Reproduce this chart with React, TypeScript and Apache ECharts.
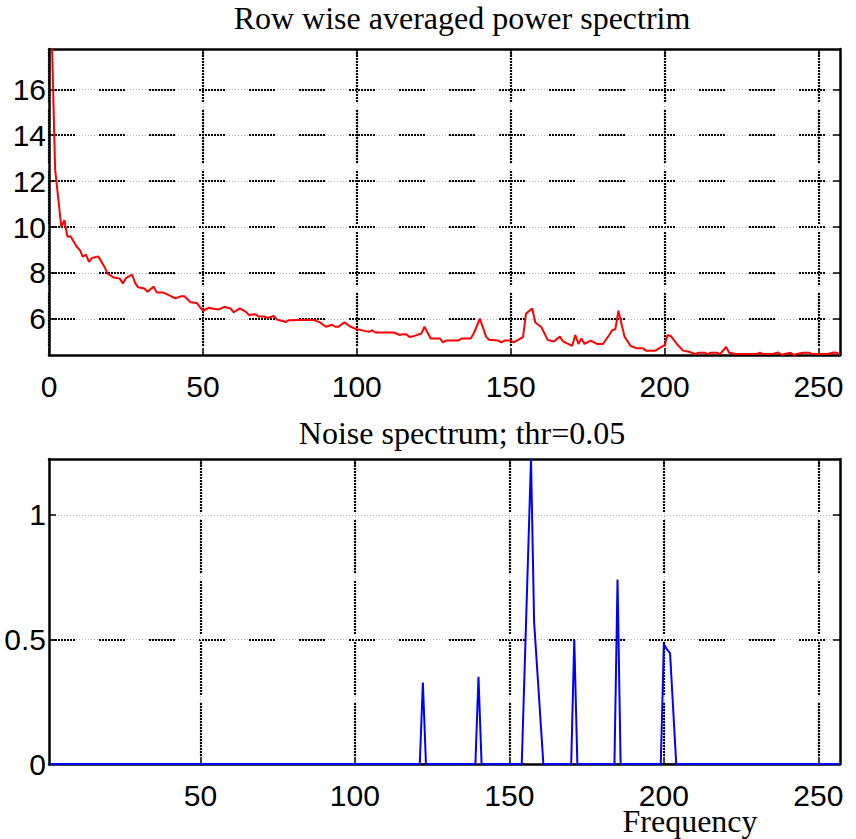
import React, { useEffect, useRef } from 'react';
import * as echarts from 'echarts';

// Row wise averaged power spectrum: [frequency, power]
const powerPoints: [number, number][] = [
  [1, 17.76], [2, 12.5], [4, 10.0], [5, 10.3], [6, 9.57], [7, 9.6], [9, 9.14], [10, 9.0], [11, 8.7], [12, 8.8],
  [13, 8.48], [14, 8.65], [16, 8.72], [18, 8.27], [19, 7.98], [21, 7.8], [23, 7.75], [24, 7.54], [25, 7.77],
  [27, 7.93], [28, 7.55], [29, 7.37], [31, 7.32], [32, 7.18], [34, 7.4], [35, 7.15], [37, 7.15], [39, 7.03],
  [41, 6.89], [43, 6.98], [44, 6.98], [46, 6.72], [48, 6.69], [49, 6.52], [50, 6.35], [52, 6.48], [53, 6.45],
  [55, 6.4], [57, 6.52], [59, 6.45], [60, 6.28], [62, 6.45], [64, 6.3], [65, 6.16], [67, 6.2], [68, 6.1],
  [70, 6.1], [71, 6.04], [73, 6.12], [74, 5.97], [77, 5.86], [78, 5.94], [81, 5.95], [86, 5.95], [88, 5.84],
  [90, 5.65], [92, 5.74], [93, 5.65], [94, 5.65], [96, 5.84], [98, 5.65], [100, 5.54], [103, 5.46], [104, 5.43],
  [105, 5.5], [106, 5.4], [112, 5.4], [114, 5.29], [115, 5.33], [116, 5.33], [117, 5.22], [118, 5.22],
  [121, 5.36], [122, 5.65], [124, 5.14], [127, 5.14], [128, 4.97], [129, 5.05], [133, 5.05], [134, 5.14],
  [137, 5.14], [138, 5.36], [140, 6.0], [142, 5.22], [143, 5.08], [146, 5.05], [147, 4.97], [148, 5.05],
  [150, 5.05], [151, 4.97], [154, 5.2], [155, 6.23], [157, 6.45], [158, 5.84], [160, 5.63], [162, 5.08],
  [164, 5.01], [166, 5.22], [167, 5.01], [170, 4.82], [171, 5.29], [172, 4.9], [173, 5.14], [174, 4.9],
  [176, 5.05], [178, 4.9], [180, 4.9], [182, 5.29], [183, 5.5], [184, 5.54], [185, 6.35], [187, 5.22],
  [189, 4.81], [191, 4.71], [193, 4.71], [194, 4.61], [197, 4.61], [199, 4.77], [200, 4.84], [201, 5.29],
  [202, 5.25], [204, 4.9], [206, 4.61], [208, 4.56], [210, 4.46], [211, 4.52], [213, 4.52], [214, 4.46],
  [215, 4.52], [217, 4.52], [218, 4.46], [220, 4.77], [221, 4.52], [223, 4.46], [230, 4.46], [231, 4.52],
  [232, 4.46], [235, 4.46], [237, 4.53], [238, 4.43], [239, 4.46], [241, 4.52], [242, 4.42], [243, 4.46],
  [245, 4.52], [247, 4.52], [248, 4.46], [253, 4.46], [255, 4.53], [256, 4.52], [257, 4.43],
];

// Noise spectrum (thr = 0.05): [frequency, value]
const noisePoints: [number, number][] = [
  [1, 0], [121, 0], [122, 0.327], [123, 0], [139, 0], [140, 0.35], [141, 0], [154, 0], [157, 1.224],
  [158, 0.57], [161, 0], [170, 0], [171, 0.5], [172, 0], [184, 0], [185, 0.74], [186, 0], [199, 0],
  [200, 0.48], [201, 0.46], [202, 0.445], [204, 0], [257, 0],
];

const topXRange = [0, 257];
const topYRange = [4.42, 17.76];
const bottomXRange = [1, 257];
const bottomYRange = [0, 1.224];
const topXTicks = [0, 50, 100, 150, 200, 250];
const topYTicks = [6, 8, 10, 12, 14, 16];
const bottomXTicks = [50, 100, 150, 200, 250];
const bottomYTicks = [0, 0.5, 1];

const titles = ['Row wise averaged power spectrim', 'Noise spectrum; thr=0.05'];
const xAxisTitle = 'Frequency';

const SANS = '"Liberation Sans", Arial, Helvetica, sans-serif';
const SERIF = '"Liberation Serif", "Times New Roman", serif';

function dots(n: number, gap: number): number[] {
  const a: number[] = [];
  for (let i = 0; i < n; i++) a.push(2, 1);
  a[a.length - 1] = gap;
  return a;
}

const greyGrid = { color: '#b4b4b4', width: 1, type: [1, 2] as number[] };

function makeAxes(
  dim: 'x' | 'y',
  gridIndex: number,
  range: number[],
  ticks: number[],
  blackColors: string[] | string,
  blackDash: number[],
) {
  const main: any = {
    type: 'value',
    gridIndex,
    min: range[0],
    max: range[1],
    position: dim === 'x' ? 'bottom' : 'left',
    axisLine: { show: true, onZero: false, lineStyle: { color: '#000', width: 2.5 } },
    axisTick: { show: true, inside: true, length: 7, customValues: ticks, lineStyle: { color: '#000', width: 1.5 } },
    axisLabel: {
      show: true,
      customValues: ticks,
      color: '#000',
      fontSize: 30,
      lineHeight: 26,
      fontFamily: SANS,
      margin: dim === 'x' ? 18 : 3,
      padding: dim === 'y' ? [6, 0, 0, 0] : 0,
    },
    splitLine: { show: true, lineStyle: greyGrid },
    z: 1,
  };
  const overlay: any = {
    type: 'value',
    gridIndex,
    min: range[0],
    max: range[1],
    position: dim === 'x' ? 'top' : 'right',
    axisLine: { show: true, onZero: false, lineStyle: { color: '#000', width: 2.5 } },
    axisTick: { show: true, inside: true, length: 7, customValues: ticks, lineStyle: { color: '#000', width: 1.5 } },
    axisLabel: { show: false, customValues: ticks },
    splitLine: { show: true, lineStyle: { color: blackColors, width: 2.2, type: blackDash } },
    z: 1,
  };
  return [main, overlay];
}

export default function App() {
  const ref = useRef<HTMLDivElement>(null);
  useEffect(() => {
    if (!ref.current) return;
    const chart = echarts.init(ref.current, undefined, { renderer: 'svg' });
    const hDash = dots(9, 24);
    const vDash = dots(18, 8);
    const [tx0, tx1] = makeAxes('x', 0, topXRange, topXTicks, '#000', vDash);
    const [bx0, bx1] = makeAxes('x', 1, bottomXRange, bottomXTicks, '#000', vDash);
    const [ty0, ty1] = makeAxes('y', 0, topYRange, topYTicks, '#000', hDash);
    const [by0, by1] = makeAxes('y', 1, bottomYRange, bottomYTicks, ['#000', '#000', 'rgba(0,0,0,0)'], hDash);
    const titleStyle = { fontFamily: SERIF, fontSize: 32, fontWeight: 'normal' as const, color: '#000', lineHeight: 30 };
    chart.setOption({
      animation: false,
      backgroundColor: '#fff',
      title: [
        { text: titles[0], left: 462, top: 3, textAlign: 'center', padding: 0, textStyle: titleStyle },
        { text: titles[1], left: 462, top: 418, textAlign: 'center', padding: 0, textStyle: titleStyle },
        {
          text: xAxisTitle, left: 690, top: 809, textAlign: 'center', padding: 0,
          textStyle: { ...titleStyle, lineHeight: 24 },
        },
      ],
      grid: [
        { left: 49, top: 49, width: 791, height: 306, containLabel: false, outerBoundsMode: 'none' },
        { left: 49, top: 459, width: 791, height: 305, containLabel: false, outerBoundsMode: 'none' },
      ],
      xAxis: [tx0, tx1, bx0, bx1],
      yAxis: [ty0, ty1, by0, by1],
      series: [
        {
          type: 'line',
          xAxisIndex: 0,
          yAxisIndex: 0,
          data: powerPoints,
          showSymbol: false,
          clip: true,
          lineStyle: { color: '#ff0000', width: 2 },
          z: 5,
        },
        {
          type: 'line',
          xAxisIndex: 2,
          yAxisIndex: 2,
          data: noisePoints,
          showSymbol: false,
          clip: true,
          lineStyle: { color: '#0000ff', width: 2 },
          z: 5,
        },
      ],
    });
    return () => chart.dispose();
  }, []);
  return (
    <div
      ref={ref}
      style={{ position: 'absolute', left: 0, top: 0, width: 856, height: 839 }}
    />
  );
}
